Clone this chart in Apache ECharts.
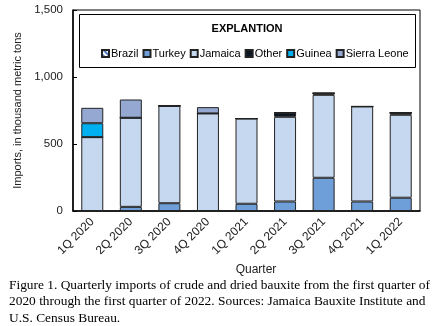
<!DOCTYPE html>
<html>
<head>
<meta charset="utf-8">
<script src="https://cdn.jsdelivr.net/npm/echarts@6/dist/echarts.min.js"></script>
<style>
  html, body { margin: 0; padding: 0; background: #fff; }
  #chart { width: 444px; height: 326px; }
</style>
</head>
<body>
<div id="chart"></div>
<script>
// Quarterly bauxite imports, thousand metric tons, by source country
const quarters = ['1Q 2020', '2Q 2020', '3Q 2020', '4Q 2020', '1Q 2021', '2Q 2021', '3Q 2021', '4Q 2021', '1Q 2022'];
const brazil      = [0, 0, 0, 0, 0, 0, 0, 0, 0];
const turkey      = [0, 31, 58, 0, 54, 71, 248, 71, 99];
const jamaica     = [551, 665, 727, 728, 636, 632, 619, 709, 619];
const other       = [0, 0, 0, 0, 0, 30, 12, 0, 15];
const guinea      = [104, 0, 0, 0, 0, 0, 0, 0, 0];
const sierraLeone = [115, 136, 0, 47, 0, 0, 0, 0, 0];
const yTicks = [0, 500, 1000, 1500];

const FONT = '"Liberation Sans", Arial, sans-serif';

function bar(name, data, color, extra) {
  return Object.assign({
    name: name,
    type: 'bar',
    stack: 'total',
    barWidth: 22,
    data: data,
    itemStyle: { color: color, borderColor: '#222', borderWidth: 1 }
  }, extra || {});
}

const chart = echarts.init(document.getElementById('chart'), null, { renderer: 'canvas' });

chart.setOption({
  animation: false,
  backgroundColor: '#fff',
  grid: { left: 73, right: 24, top: 10, bottom: 115, show: true, borderColor: '#000', borderWidth: 1 },
  xAxis: {
    type: 'category',
    data: quarters,
    axisLine: { lineStyle: { color: '#000', width: 1.5 } },
    axisTick: { show: false },
    axisLabel: { rotate: 45, fontFamily: FONT, fontSize: 12, color: '#222', margin: 9 },
    name: 'Quarter',
    nameLocation: 'middle',
    nameGap: 51,
    nameTextStyle: { fontFamily: FONT, fontSize: 12, color: '#222', padding: [0, 0, 0, 19] }
  },
  yAxis: {
    type: 'value',
    min: yTicks[0],
    max: yTicks[yTicks.length - 1],
    interval: yTicks[1] - yTicks[0],
    splitLine: { show: false },
    axisLine: { show: true, lineStyle: { color: '#000', width: 1.5 } },
    axisTick: { show: true, inside: true, length: 4, lineStyle: { color: '#000' } },
    axisLabel: {
      fontFamily: FONT, fontSize: 11.5, color: '#222', margin: 10,
      formatter: v => v.toLocaleString('en-US')
    },
    name: 'Imports, in thousand metric tons',
    nameLocation: 'middle',
    nameGap: 43,
    nameTextStyle: { fontFamily: FONT, fontSize: 11, color: '#222' }
  },
  legend: {
    top: 43,
    left: 96,
    width: 330,
    z: 10,
    itemWidth: 7,
    itemHeight: 7,
    itemGap: 4,
    icon: 'rect',
    textStyle: { fontFamily: FONT, fontSize: 11, color: '#000', padding: [0, 0, 0, -3] },
    data: ['Brazil', 'Turkey', 'Jamaica', 'Other', 'Guinea', 'Sierra Leone']
  },
  graphic: [
    {
      type: 'rect',
      shape: { x: 79.5, y: 14.5, width: 336, height: 53 },
      style: { fill: '#fff', stroke: '#000', lineWidth: 1 },
      z: 5
    },
    {
      type: 'text',
      x: 247, y: 29,
      style: { text: 'EXPLANTION', fontFamily: FONT, fontSize: 11, fontWeight: 'bold', fill: '#000', align: 'center', verticalAlign: 'middle' },
      z: 6
    },
    {
      type: 'text',
      x: 9, y: 277,
      style: {
        text: 'Figure 1. Quarterly imports of crude and dried bauxite from the first quarter of\n2020 through the first quarter of 2022. Sources: Jamaica Bauxite Institute and\nU.S. Census Bureau.',
        fontFamily: '"Liberation Serif", "Times New Roman", serif',
        fontSize: 13.4,
        lineHeight: 16.5,
        fill: '#000'
      }
    }
  ],
  series: [
    bar('Brazil', brazil, '#4f7fc0', { itemStyle: { color: '#4f7fc0', borderColor: '#222', borderWidth: 1,
      decal: { symbol: 'rect', dashArrayX: [1, 0], dashArrayY: [2, 2], rotation: Math.PI / 4, color: '#ffffff' } } }),
    bar('Turkey', turkey, '#6f9fd8'),
    bar('Jamaica', jamaica, '#c6d8ef'),
    bar('Other', other, '#0c1624'),
    bar('Guinea', guinea, '#00b0f0'),
    bar('Sierra Leone', sierraLeone, '#95a8d2')
  ]
});
</script>
</body>
</html>
